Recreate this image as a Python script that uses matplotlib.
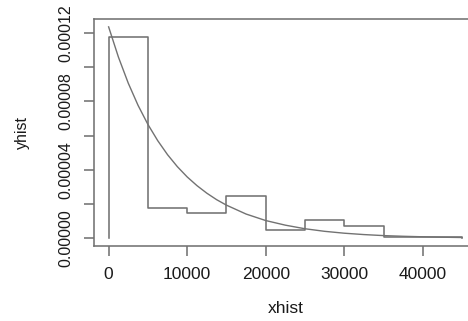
import matplotlib
matplotlib.use("Agg")
import matplotlib.pyplot as plt

# Histogram (density) step outline, bin width 5000
bin_edges = [0, 5000, 10000, 15000, 20000, 25000, 30000, 35000, 40000, 45000]
bin_density = [1.178e-4, 1.77e-5, 1.48e-5, 2.45e-5, 5.1e-6, 1.05e-5, 7.0e-6, 1.0e-6, 0.8e-6]

# Fitted curve, values
curve_x = [0, 1250, 2500, 3750, 5000, 6250, 7500, 8750, 10000, 11250, 12500,
           13750, 15000, 17500, 20000, 22500, 25000, 27500, 30000, 32500,
           35000, 37500, 40000, 42500, 45000]
curve_y = [1.236e-4, 1.059e-4, 9.07e-5, 7.77e-5, 6.66e-5, 5.71e-5, 4.89e-5,
           4.19e-5, 3.59e-5, 3.08e-5, 2.64e-5, 2.26e-5, 1.94e-5, 1.42e-5,
           1.04e-5, 7.7e-6, 5.6e-6, 4.1e-6, 3.0e-6, 2.2e-6, 1.6e-6, 1.2e-6,
           0.9e-6, 0.65e-6, 0.48e-6]

x_ticks = [0, 10000, 20000, 30000, 40000]
x_ticklabels = ["0", "10000", "20000", "30000", "40000"]
y_ticks = [0, 2e-5, 4e-5, 6e-5, 8e-5, 10e-5, 12e-5]
y_ticklabels = ["0.00000", "", "0.00004", "", "0.00008", "", "0.00012"]

plt.rcParams['font.family'] = ['Liberation Sans', 'DejaVu Sans']
LINE = '#727272'
TEXT = '#1a1a1a'
FSX = 12.5
FSY = 11.5

fig = plt.figure(figsize=(4.68, 3.21), dpi=100)
ax = fig.add_axes([0.2019, 0.2346, 0.8156, 0.7062])

# step outline like R type="s"
xs = [bin_edges[0]] + bin_edges
ys = [0] + bin_density + [0]
ax.step(xs, ys, where='post', color=LINE, lw=1.15)
ax.plot(curve_x, curve_y, color=LINE, lw=1.0)

ax.set_xlim(-1800, 46800)
ax.set_ylim(-4.3e-6, 1.282e-4)

ax.set_xticks(x_ticks)
ax.set_xticklabels(x_ticklabels)
ax.set_yticks(y_ticks)
ax.set_yticklabels(y_ticklabels, rotation=90, va='center')

ax.tick_params(axis='both', length=7.5, width=1.15, color=LINE,
               labelcolor=TEXT)
ax.tick_params(axis='x', pad=7.5, labelsize=FSX)
ax.tick_params(axis='y', pad=7.5, labelsize=FSY)

for s in ax.spines.values():
    s.set_color(LINE)
    s.set_linewidth(1.15)

ax.set_xlabel("xhist", fontsize=FSX, color=TEXT)
ax.set_ylabel("yhist", fontsize=FSY, color=TEXT)
ax.xaxis.set_label_coords(0.5, -0.245)
ax.yaxis.set_label_coords(-0.17, 0.5)

fig.savefig("out.png", dpi=100)
